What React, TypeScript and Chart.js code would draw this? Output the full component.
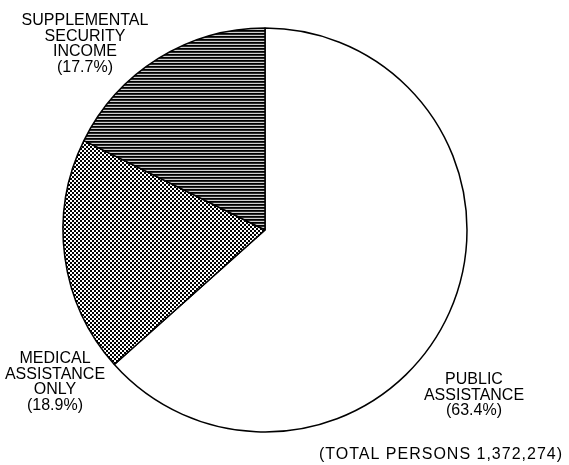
import React, { useEffect, useRef } from "react";
import { Chart, registerables } from "chart.js";

Chart.register(...registerables);

const categories: string[][] = [
  ["PUBLIC", "ASSISTANCE"],
  ["MEDICAL", "ASSISTANCE", "ONLY"],
  ["SUPPLEMENTAL", "SECURITY", "INCOME"],
];
const shares: number[] = [63.4, 18.9, 17.7];
const footnote = "(TOTAL PERSONS 1,372,274)";

// label anchor (center of first text line) per slice
const labelAnchors: { x: number; y: number }[] = [
  { x: 474, y: 380 },
  { x: 55, y: 359 },
  { x: 85, y: 21 },
];

function makeDotPattern(ctx: CanvasRenderingContext2D): CanvasPattern | string {
  const c = document.createElement("canvas");
  c.width = 4;
  c.height = 4;
  const g = c.getContext("2d");
  if (!g) return "#888";
  g.fillStyle = "#fff";
  g.fillRect(0, 0, 4, 4);
  g.fillStyle = "#000";
  g.fillRect(0, 0, 2, 2);
  g.fillRect(2, 2, 2, 2);
  return ctx.createPattern(c, "repeat") || "#888";
}

function makeLinePattern(ctx: CanvasRenderingContext2D): CanvasPattern | string {
  const c = document.createElement("canvas");
  c.width = 4;
  c.height = 3;
  const g = c.getContext("2d");
  if (!g) return "#444";
  g.fillStyle = "#000";
  g.fillRect(0, 0, 4, 1);
  g.fillStyle = "#2a2a2a";
  g.fillRect(0, 1, 4, 1);
  g.fillStyle = "#cfcfcf";
  g.fillRect(0, 2, 4, 1);
  return ctx.createPattern(c, "repeat") || "#444";
}

const labelPlugin = {
  id: "sliceLabels",
  afterDraw(chart: any) {
    const ctx: CanvasRenderingContext2D = chart.ctx;
    ctx.save();
    ctx.fillStyle = "#000";
    ctx.font = "16px 'Liberation Sans', Arial, sans-serif";
    ctx.textAlign = "center";
    ctx.textBaseline = "middle";
    const lh = 15.5;
    categories.forEach((lines, i) => {
      const a = labelAnchors[i];
      const all = [...lines, `(${shares[i].toFixed(1)}%)`];
      all.forEach((t, j) => ctx.fillText(t, a.x, a.y + j * lh));
    });
    ctx.textAlign = "right";
    (ctx as any).letterSpacing = "1px";
    ctx.fillText(footnote, 563, 455);
    ctx.restore();
  },
};

export default function App() {
  const ref = useRef<HTMLCanvasElement | null>(null);
  useEffect(() => {
    const canvas = ref.current;
    if (!canvas) return;
    const ctx = canvas.getContext("2d");
    if (!ctx) return;
    const fills = ["#ffffff", makeDotPattern(ctx), makeLinePattern(ctx)];
    const chart = new Chart(canvas, {
      type: "pie",
      data: {
        labels: categories.map((l) => l.join(" ")),
        datasets: [
          {
            data: shares,
            backgroundColor: fills as any,
            borderColor: "#000",
            borderWidth: 1.5,
            hoverOffset: 0,
          },
        ],
      },
      options: {
        animation: false,
        responsive: true,
        maintainAspectRatio: false,
        radius: 202,
        rotation: 0,
        layout: { padding: { left: 0, right: 39, top: 0, bottom: 5 } },
        plugins: {
          legend: { display: false },
          tooltip: { enabled: false },
          title: { display: false },
        },
        events: [],
      } as any,
      plugins: [labelPlugin],
    });
    return () => chart.destroy();
  }, []);
  return (
    <div
      style={{
        position: "fixed",
        left: 0,
        top: 0,
        width: 569,
        height: 465,
        background: "#fff",
      }}
    >
      <canvas ref={ref} />
    </div>
  );
}
